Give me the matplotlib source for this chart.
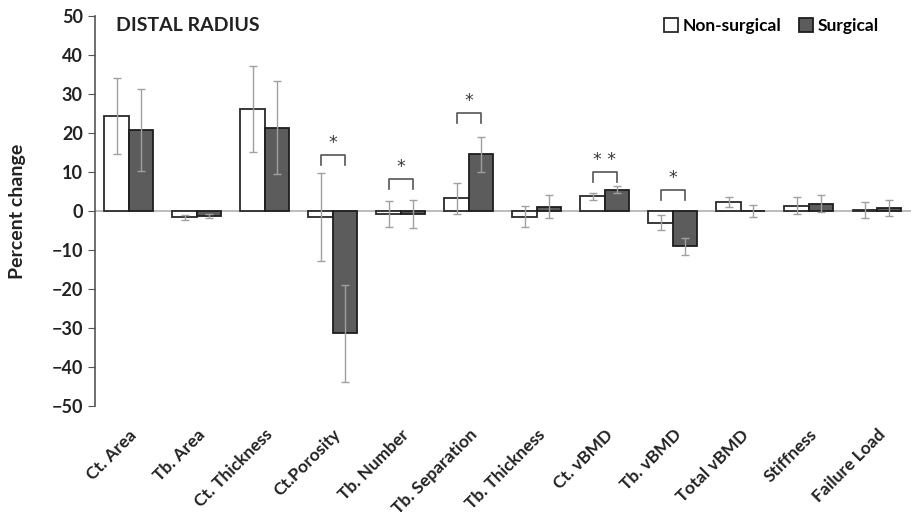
import matplotlib.pyplot as plt
import numpy as np

plt.rcParams['font.family'] = ['Lato', 'DejaVu Sans']

kategorie = ['Ct. Area', 'Tb. Area', 'Ct. Thickness', 'Ct.Porosity', 'Tb. Number',
             'Tb. Separation', 'Tb. Thickness', 'Ct. vBMD', 'Tb. vBMD', 'Total vBMD',
             'Stiffness', 'Failure Load']
niechirurg = [24.4, -1.6, 26.2, -1.6, -0.7, 3.2, -1.5, 3.8, -3.0, 2.2, 1.3, 0.3]
niechirurg_err = [9.7, 0.6, 11.1, 11.3, 3.3, 3.9, 2.7, 0.9, 2.0, 1.3, 2.2, 2.0]
chirurg = [20.7, -1.3, 21.4, -31.4, -0.8, 14.5, 1.1, 5.4, -9.1, 0.0, 1.9, 0.7]
chirurg_err = [10.5, 0.6, 12.0, 12.5, 3.5, 4.4, 3.0, 0.9, 2.2, 1.5, 2.3, 2.1]

# istotnosc: indeks kategorii, wysokosc klamry, gwiazdki
istotne = [(3, 14.4, '*'), (4, 8.2, '*'), (5, 25.0, '*'), (7, 10.0, '* *'), (8, 5.4, '*')]

fig = plt.figure(figsize=(9.11, 5.17), dpi=100)
ax = fig.add_axes([0.104, 0.215, 0.896, 0.754])

x = np.arange(len(kategorie))
w = 0.36
ax.bar(x - w / 2, niechirurg, w, color='white', edgecolor='#2a2a2a', linewidth=1.3,
       label='Non-surgical', zorder=2)
ax.bar(x + w / 2, chirurg, w, color='#5c5c5c', edgecolor='#1e1e1e', linewidth=1.3,
       label='Surgical', zorder=2)
ax.errorbar(x - w / 2, niechirurg, yerr=niechirurg_err, fmt='none', ecolor='#a0a0a0',
            elinewidth=1, capsize=3, zorder=3)
ax.errorbar(x + w / 2, chirurg, yerr=chirurg_err, fmt='none', ecolor='#a0a0a0',
            elinewidth=1, capsize=3, zorder=3)

ax.axhline(0, color='#b0b0b0', lw=1.2, zorder=1)

for i, h, s in istotne:
    ax.plot([i - w / 2, i - w / 2, i + w / 2, i + w / 2], [h - 2.5, h, h, h - 2.5],
            color='#555555', lw=1.2)
    ax.text(i, h + 0.8, s, ha='center', va='bottom', fontsize=12.5,
            color='#3a3a3a', family='DejaVu Sans')

ax.set_xlim(-0.5, 11.5)
ax.set_ylim(-50, 50)
ax.set_yticks(np.arange(-50, 51, 10))
ax.set_xticks(x)
ax.set_xticklabels(kategorie, rotation=45, ha='right', rotation_mode='anchor',
                   fontsize=12.5, fontweight='bold', color='#222222')
ax.tick_params(axis='x', length=0, pad=15)
ax.tick_params(axis='y', length=5, color='#555555', labelsize=13, labelcolor='#222222')
for t in ax.get_yticklabels():
    t.set_fontweight('bold')
for s in ['top', 'right', 'bottom']:
    ax.spines[s].set_visible(False)
ax.spines['left'].set_color('#555555')
ax.spines['left'].set_linewidth(1.2)

ax.set_ylabel('Percent change', fontsize=14, fontweight='bold', color='#222222', labelpad=18)
ax.text(0.026, 0.998, 'DISTAL RADIUS', transform=ax.transAxes, fontsize=14,
        fontweight='bold', va='top', color='#222222')

leg = ax.legend(loc='upper right', bbox_to_anchor=(0.98, 1.035), frameon=False, ncol=2,
                handlelength=0.8, handleheight=0.8, handletextpad=0.3, columnspacing=1.0,
                prop={'weight': 'bold', 'size': 12.5})

fig.savefig('out.png', dpi=100)
